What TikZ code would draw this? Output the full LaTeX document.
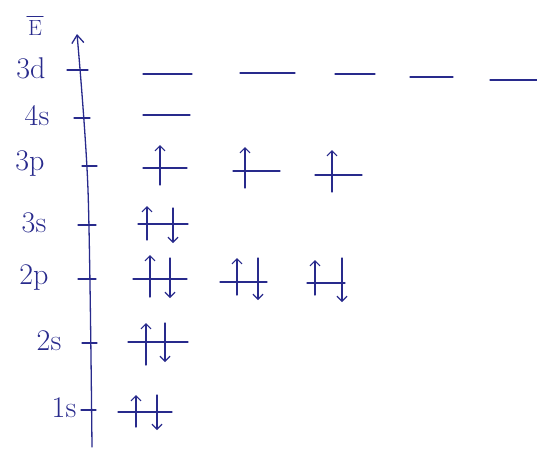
\documentclass[tikz,border=0pt]{standalone}
\usetikzlibrary{arrows.meta}
\definecolor{ink}{RGB}{40,42,140}
\begin{document}
\begin{tikzpicture}[x=1pt,y=-1pt,
  pen/.style={draw=ink,line width=1.3pt,line cap=round,line join=round},
  spin/.style={pen,-{Straight Barb[length=5pt,width=10pt,line width=1.2pt]}},
  lbl/.style={text=ink,font=\fontsize{30}{32}\selectfont,inner sep=0pt}]
\useasboundingbox (0,0) rectangle (537,451);
% axis
\coordinate (axb) at (92,447);
\coordinate (axm) at (88,190);
\coordinate (axt) at (77,34);
\draw[pen,-{Straight Barb[length=8pt,width=12pt,line width=1.3pt]}] plot[smooth] coordinates {(axb) (axm) (axt)};
\node[lbl,font=\fontsize{22}{24}\selectfont] (E) at (35,28) {E};
\draw[pen,line width=1pt] ([xshift=-1pt,yshift=4pt]E.north west) -- ([xshift=1pt,yshift=4pt]E.north east);
% ticks and labels
\foreach \nm/\lab/\y/\xa/\xb/\lx in {d3/3d/70/67/88/31, s4/4s/118/74/90/37, p3/3p/166/82/97/30, s3/3s/225/78/96/34, p2/2p/279/78/96/34, s2/2s/343/82/97/49, s1/1s/410/81/96/64}{
  \draw[pen] (\xa,\y) -- (\xb,\y);
  \node[lbl] (L\nm) at (\lx,\y-2) {\lab};
}
% 3d
\foreach \a/\b/\y in {143/192/74, 240/295/73, 335/375/74, 410/453/77, 490/537/80}{
  \draw[pen] (\a,\y) -- (\b,\y);
}
% 4s
\draw[pen] (143,115) -- (190,115);
% 3p
\foreach \a/\b/\y/\u/\t in {143/187/168/160/145, 233/280/171/245/147, 315/362/175/332/150}{
  \draw[pen] (\a,\y) -- (\b,\y);
  \draw[spin] (\u,\y+17) -- (\u,\t);
}
% paired orbitals
\foreach \a/\b/\y/\u/\ub/\ut/\d/\dt/\db in {
  138/188/224/147/240/206/173/208/243,
  133/187/279/150/297/255/170/258/298,
  220/267/282/237/295/258/258/258/300,
  307/345/283/315/295/260/342/258/302,
  128/188/342/146/365/323/165/323/362,
  118/172/412/136/427/395/157/395/430}{
  \draw[pen] (\a,\y) -- (\b,\y);
  \draw[spin] (\u,\ub) -- (\u,\ut);
  \draw[spin] (\d,\dt) -- (\d,\db);
}
\end{tikzpicture}
\end{document}
